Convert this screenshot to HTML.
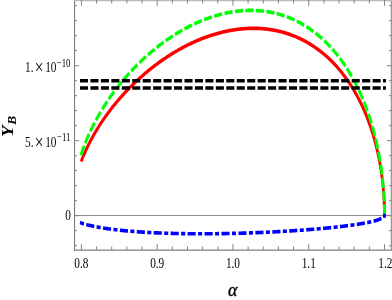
<!DOCTYPE html>
<html><head><meta charset="utf-8"><style>
html,body{margin:0;padding:0;background:#fff;}
svg{display:block;font-family:"Liberation Serif",serif;}
</style></head><body>
<svg width="392" height="300" viewBox="0 0 392 300">
<rect width="392" height="300" fill="#fff"/>
<line x1="74.5" y1="215.5" x2="391.5" y2="215.5" stroke="#8c8c8c" stroke-width="1"/>
<g transform="scale(1,1.27)" fill="none" stroke-width="2.85" stroke-linecap="square" stroke-linejoin="round">
<path d="M81.80 125.93 L83.06 123.44 L84.32 121.09 L85.58 118.85 L86.83 116.72 L88.08 114.67 L89.32 112.71 L90.57 110.81 L91.81 108.99 L93.04 107.22 L94.28 105.51 L95.51 103.85 L96.73 102.23 L97.96 100.66 L99.18 99.13 L100.40 97.64 L101.61 96.19 L102.82 94.77 L104.03 93.39 L105.24 92.04 L106.44 90.71 L107.64 89.42 L108.83 88.15 L110.03 86.91 L111.22 85.69 L112.40 84.49 L113.59 83.32 L114.77 82.17 L115.94 81.05 L117.12 79.94 L118.29 78.86 L119.46 77.79 L120.62 76.74 L121.78 75.71 L122.94 74.70 L124.10 73.70 L125.25 72.72 L126.40 71.76 L127.55 70.82 L128.69 69.88 L129.83 68.97 L130.97 68.07 L132.10 67.18 L133.23 66.31 L134.36 65.45 L135.49 64.60 L136.61 63.77 L137.73 62.95 L138.85 62.15 L139.96 61.35 L141.07 60.57 L142.18 59.80 L143.28 59.04 L144.38 58.29 L145.48 57.56 L146.57 56.83 L147.67 56.12 L148.75 55.42 L149.84 54.72 L150.92 54.04 L152.00 53.37 L153.08 52.71 L154.15 52.06 L155.22 51.42 L156.29 50.78 L157.36 50.16 L158.42 49.55 L159.48 48.94 L160.53 48.35 L161.59 47.76 L162.64 47.19 L163.68 46.62 L164.73 46.06 L165.77 45.51 L166.81 44.97 L167.84 44.43 L168.87 43.91 L169.90 43.39 L170.93 42.88 L171.95 42.38 L172.97 41.88 L173.99 41.40 L175.01 40.92 L176.02 40.45 L177.03 39.99 L178.03 39.53 L179.03 39.08 L180.03 38.64 L181.03 38.21 L182.03 37.78 L183.02 37.36 L184.00 36.95 L184.99 36.54 L185.97 36.15 L186.95 35.75 L187.93 35.37 L188.90 34.99 L189.87 34.62 L190.84 34.25 L191.81 33.90 L192.77 33.54 L193.73 33.20 L194.68 32.86 L195.64 32.53 L196.59 32.20 L197.53 31.88 L198.48 31.56 L199.42 31.26 L200.36 30.95 L201.30 30.66 L202.23 30.37 L203.16 30.08 L204.09 29.80 L205.01 29.53 L205.93 29.26 L206.85 29.00 L207.77 28.75 L208.68 28.50 L209.59 28.25 L210.50 28.01 L211.41 27.78 L212.31 27.55 L213.21 27.33 L214.10 27.11 L215.00 26.90 L215.89 26.69 L216.77 26.49 L217.66 26.29 L218.54 26.10 L219.42 25.92 L220.30 25.74 L221.17 25.56 L222.04 25.39 L222.91 25.22 L223.78 25.06 L224.64 24.91 L225.50 24.76 L226.36 24.61 L227.21 24.47 L228.06 24.33 L228.91 24.20 L229.76 24.07 L230.60 23.95 L231.44 23.83 L232.28 23.72 L233.11 23.61 L233.95 23.50 L234.78 23.40 L235.60 23.31 L236.43 23.22 L237.25 23.13 L238.07 23.05 L238.88 22.97 L239.70 22.90 L240.51 22.83 L241.31 22.77 L242.12 22.71 L242.92 22.65 L243.72 22.60 L244.52 22.55 L245.31 22.51 L246.10 22.47 L246.89 22.43 L247.68 22.40 L248.46 22.38 L249.24 22.35 L250.02 22.33 L250.79 22.32 L251.57 22.31 L252.33 22.30 L253.10 22.30 L253.87 22.30 L254.63 22.30 L255.39 22.31 L256.14 22.32 L256.90 22.34 L257.65 22.36 L258.40 22.38 L259.14 22.41 L259.89 22.44 L260.63 22.48 L261.36 22.51 L262.10 22.56 L262.83 22.60 L263.56 22.65 L264.29 22.70 L265.01 22.76 L265.74 22.82 L266.45 22.88 L267.17 22.95 L267.89 23.02 L268.60 23.09 L269.31 23.17 L270.01 23.25 L270.72 23.34 L271.42 23.42 L272.12 23.51 L272.81 23.61 L273.50 23.71 L274.19 23.81 L274.88 23.91 L275.57 24.02 L276.25 24.13 L276.93 24.24 L277.61 24.36 L278.28 24.48 L278.96 24.60 L279.63 24.73 L280.30 24.86 L280.96 24.99 L281.62 25.12 L282.28 25.26 L282.94 25.40 L283.59 25.55 L284.25 25.70 L284.90 25.85 L285.54 26.00 L286.19 26.16 L286.83 26.32 L287.47 26.48 L288.11 26.64 L288.74 26.81 L289.37 26.98 L290.00 27.16 L290.63 27.33 L291.26 27.51 L291.88 27.70 L292.50 27.88 L293.11 28.07 L293.73 28.26 L294.34 28.45 L294.95 28.65 L295.56 28.85 L296.16 29.05 L296.76 29.25 L297.36 29.46 L297.96 29.67 L298.56 29.88 L299.15 30.10 L299.74 30.31 L300.33 30.53 L300.91 30.76 L301.49 30.98 L302.07 31.21 L302.65 31.44 L303.23 31.67 L303.80 31.90 L304.37 32.14 L304.94 32.38 L305.50 32.62 L306.07 32.87 L306.63 33.12 L307.18 33.36 L307.74 33.62 L308.29 33.87 L308.84 34.13 L309.39 34.39 L309.94 34.65 L310.48 34.91 L311.02 35.18 L311.56 35.44 L312.10 35.71 L312.63 35.99 L313.17 36.26 L313.70 36.54 L314.22 36.82 L314.75 37.10 L315.27 37.38 L315.79 37.67 L316.31 37.95 L316.82 38.24 L317.34 38.54 L317.85 38.83 L318.36 39.13 L318.86 39.42 L319.37 39.72 L319.87 40.03 L320.37 40.33 L320.86 40.64 L321.36 40.94 L321.85 41.25 L322.34 41.57 L322.83 41.88 L323.31 42.20 L323.80 42.51 L324.28 42.83 L324.75 43.16 L325.23 43.48 L325.70 43.80 L326.18 44.13 L326.64 44.46 L327.11 44.79 L327.58 45.12 L328.04 45.46 L328.50 45.79 L328.96 46.13 L329.41 46.47 L329.87 46.81 L330.32 47.16 L330.77 47.50 L331.21 47.85 L331.66 48.20 L332.10 48.55 L332.54 48.90 L332.98 49.25 L333.41 49.61 L333.85 49.96 L334.28 50.32 L334.71 50.68 L335.13 51.04 L335.56 51.41 L335.98 51.77 L336.40 52.14 L336.82 52.51 L337.23 52.87 L337.65 53.25 L338.06 53.62 L338.47 53.99 L338.87 54.37 L339.28 54.74 L339.68 55.12 L340.08 55.50 L340.48 55.88 L340.88 56.26 L341.27 56.65 L341.66 57.03 L342.05 57.42 L342.44 57.81 L342.83 58.19 L343.21 58.59 L343.59 58.98 L343.97 59.37 L344.35 59.76 L344.72 60.16 L345.09 60.56 L345.46 60.95 L345.83 61.35 L346.20 61.75 L346.56 62.16 L346.93 62.56 L347.29 62.96 L347.65 63.37 L348.00 63.77 L348.36 64.18 L348.71 64.59 L349.06 65.00 L349.40 65.41 L349.75 65.82 L350.09 66.24 L350.44 66.65 L350.78 67.07 L351.11 67.48 L351.45 67.90 L351.78 68.32 L352.11 68.74 L352.44 69.16 L352.77 69.58 L353.10 70.00 L353.42 70.43 L353.74 70.85 L354.06 71.27 L354.38 71.70 L354.69 72.13 L355.01 72.56 L355.32 72.98 L355.63 73.41 L355.93 73.85 L356.24 74.28 L356.54 74.71 L356.85 75.14 L357.15 75.58 L357.44 76.01 L357.74 76.45 L358.03 76.88 L358.32 77.32 L358.61 77.76 L358.90 78.20 L359.19 78.63 L359.47 79.07 L359.75 79.52 L360.03 79.96 L360.31 80.40 L360.59 80.84 L360.86 81.28 L361.14 81.73 L361.41 82.17 L361.68 82.62 L361.94 83.06 L362.21 83.51 L362.47 83.96 L362.73 84.41 L362.99 84.85 L363.25 85.30 L363.51 85.75 L363.76 86.20 L364.01 86.65 L364.26 87.10 L364.51 87.55 L364.76 88.01 L365.00 88.46 L365.24 88.91 L365.48 89.36 L365.72 89.82 L365.96 90.27 L366.20 90.73 L366.43 91.18 L366.66 91.64 L366.89 92.09 L367.12 92.55 L367.35 93.00 L367.57 93.46 L367.80 93.92 L368.02 94.37 L368.24 94.83 L368.45 95.29 L368.67 95.75 L368.88 96.21 L369.10 96.67 L369.31 97.12 L369.52 97.58 L369.72 98.04 L369.93 98.50 L370.13 98.96 L370.33 99.42 L370.54 99.88 L370.73 100.34 L370.93 100.80 L371.13 101.26 L371.32 101.72 L371.51 102.18 L371.70 102.65 L371.89 103.11 L372.08 103.57 L372.26 104.03 L372.45 104.49 L372.63 104.95 L372.81 105.41 L372.99 105.87 L373.16 106.33 L373.34 106.80 L373.51 107.26 L373.68 107.72 L373.85 108.18 L374.02 108.64 L374.19 109.10 L374.36 109.56 L374.52 110.02 L374.68 110.48 L374.84 110.94 L375.00 111.40 L375.16 111.86 L375.31 112.32 L375.47 112.78 L375.62 113.24 L375.77 113.70 L375.92 114.16 L376.07 114.62 L376.22 115.08 L376.36 115.54 L376.51 116.00 L376.65 116.46 L376.79 116.92 L376.93 117.37 L377.06 117.83 L377.20 118.29 L377.34 118.74 L377.47 119.20 L377.60 119.66 L377.73 120.11 L377.86 120.57 L377.98 121.02 L378.11 121.48 L378.23 121.93 L378.36 122.38 L378.48 122.84 L378.60 123.29 L378.72 123.74 L378.83 124.20 L378.95 124.65 L379.06 125.10 L379.18 125.55 L379.29 126.00 L379.40 126.45 L379.50 126.90 L379.61 127.34 L379.72 127.79 L379.82 128.24 L379.92 128.69 L380.03 129.13 L380.13 129.58 L380.22 130.02 L380.32 130.47 L380.42 130.91 L380.51 131.35 L380.61 131.79 L380.70 132.23 L380.79 132.67 L380.88 133.11 L380.97 133.55 L381.05 133.99 L381.14 134.43 L381.22 134.87 L381.31 135.30 L381.39 135.74 L381.47 136.17 L381.55 136.60 L381.62 137.04 L381.70 137.47 L381.78 137.90 L381.85 138.33 L381.92 138.76 L382.00 139.18 L382.07 139.61 L382.14 140.04 L382.20 140.46 L382.27 140.89 L382.34 141.31 L382.40 141.73 L382.46 142.15 L382.53 142.57 L382.59 142.99 L382.65 143.41 L382.71 143.82 L382.76 144.24 L382.82 144.65 L382.88 145.07 L382.93 145.48 L382.98 145.89 L383.04 146.30 L383.09 146.70 L383.14 147.11 L383.19 147.52 L383.23 147.92 L383.28 148.32 L383.33 148.72 L383.37 149.12 L383.41 149.52 L383.46 149.92 L383.50 150.32 L383.54 150.71 L383.58 151.10 L383.62 151.49 L383.65 151.88 L383.69 152.27 L383.73 152.66 L383.76 153.04 L383.80 153.42 L383.83 153.80 L383.86 154.18 L383.89 154.56 L383.92 154.94 L383.95 155.31 L383.98 155.68 L384.01 156.05 L384.03 156.42 L384.06 156.79 L384.08 157.15 L384.11 157.52 L384.13 157.88 L384.15 158.23 L384.17 158.59 L384.19 158.94 L384.21 159.30 L384.23 159.65 L384.25 159.99 L384.27 160.34 L384.28 160.68 L384.30 161.02 L384.32 161.36 L384.33 161.69 L384.34 162.02 L384.36 162.35 L384.37 162.68 L384.38 163.00 L384.39 163.32 L384.40 163.63 L384.41 163.95 L384.42 164.26 L384.43 164.56 L384.44 164.87 L384.45 165.17 L384.45 165.46 L384.46 165.75 L384.46 166.04 L384.47 166.32 L384.47 166.60 L384.48 166.87 L384.48 167.14 L384.49 167.40 L384.49 167.66 L384.49 167.91 L384.49 168.15 L384.50 168.39 L384.50 168.62 L384.50 168.83 L384.50 169.04 L384.50 169.24 L384.50 169.41 L384.50 169.57 L384.50 169.69" stroke="#ff0000"/>
<path d="M81.40 120.87 L82.66 118.02 L83.92 115.34 L85.18 112.79 L86.43 110.36 L87.69 108.04 L88.93 105.82 L90.18 103.69 L91.42 101.63 L92.66 99.64 L93.89 97.72 L95.12 95.86 L96.35 94.06 L97.58 92.30 L98.80 90.60 L100.02 88.94 L101.24 87.33 L102.45 85.76 L103.66 84.22 L104.87 82.72 L106.07 81.26 L107.27 79.83 L108.47 78.43 L109.66 77.06 L110.85 75.72 L112.04 74.41 L113.23 73.12 L114.41 71.86 L115.59 70.63 L116.76 69.42 L117.94 68.23 L119.11 67.06 L120.27 65.92 L121.44 64.79 L122.60 63.69 L123.75 62.60 L124.91 61.54 L126.06 60.49 L127.21 59.46 L128.35 58.45 L129.50 57.46 L130.63 56.48 L131.77 55.52 L132.90 54.57 L134.03 53.64 L135.16 52.73 L136.28 51.83 L137.40 50.94 L138.52 50.07 L139.64 49.22 L140.75 48.37 L141.86 47.54 L142.96 46.72 L144.06 45.92 L145.16 45.13 L146.26 44.35 L147.35 43.58 L148.44 42.83 L149.53 42.08 L150.61 41.35 L151.70 40.63 L152.77 39.92 L153.85 39.22 L154.92 38.53 L155.99 37.86 L157.06 37.19 L158.12 36.54 L159.18 35.89 L160.24 35.25 L161.29 34.63 L162.34 34.01 L163.39 33.41 L164.44 32.81 L165.48 32.22 L166.52 31.64 L167.56 31.07 L168.59 30.51 L169.62 29.96 L170.65 29.42 L171.67 28.89 L172.69 28.36 L173.71 27.85 L174.73 27.34 L175.74 26.84 L176.75 26.35 L177.76 25.86 L178.76 25.39 L179.76 24.92 L180.76 24.46 L181.76 24.01 L182.75 23.57 L183.74 23.13 L184.73 22.70 L185.71 22.28 L186.69 21.87 L187.67 21.46 L188.64 21.06 L189.62 20.67 L190.58 20.29 L191.55 19.91 L192.51 19.54 L193.47 19.18 L194.43 18.82 L195.39 18.47 L196.34 18.13 L197.29 17.79 L198.23 17.46 L199.18 17.14 L200.12 16.83 L201.05 16.52 L201.99 16.21 L202.92 15.92 L203.85 15.63 L204.77 15.34 L205.70 15.06 L206.62 14.79 L207.54 14.53 L208.45 14.27 L209.36 14.01 L210.27 13.77 L211.18 13.53 L212.08 13.29 L212.98 13.06 L213.88 12.84 L214.77 12.62 L215.66 12.41 L216.55 12.20 L217.44 12.00 L218.32 11.80 L219.20 11.61 L220.08 11.43 L220.96 11.25 L221.83 11.08 L222.70 10.91 L223.56 10.75 L224.43 10.59 L225.29 10.44 L226.15 10.29 L227.00 10.15 L227.86 10.02 L228.71 9.88 L229.55 9.76 L230.40 9.64 L231.24 9.52 L232.08 9.41 L232.91 9.31 L233.75 9.21 L234.58 9.11 L235.41 9.02 L236.23 8.93 L237.05 8.85 L237.87 8.78 L238.69 8.71 L239.50 8.64 L240.32 8.58 L241.12 8.52 L241.93 8.47 L242.73 8.42 L243.53 8.38 L244.33 8.34 L245.13 8.30 L245.92 8.27 L246.71 8.25 L247.50 8.23 L248.28 8.21 L249.06 8.20 L249.84 8.19 L250.62 8.19 L251.39 8.19 L252.16 8.19 L252.93 8.20 L253.69 8.22 L254.46 8.24 L255.22 8.26 L255.97 8.28 L256.73 8.31 L257.48 8.35 L258.23 8.39 L258.98 8.43 L259.72 8.48 L260.46 8.53 L261.20 8.58 L261.94 8.64 L262.67 8.70 L263.40 8.77 L264.13 8.84 L264.86 8.92 L265.58 8.99 L266.30 9.08 L267.02 9.16 L267.73 9.25 L268.44 9.35 L269.15 9.44 L269.86 9.54 L270.57 9.65 L271.27 9.76 L271.97 9.87 L272.66 9.98 L273.36 10.10 L274.05 10.23 L274.74 10.35 L275.42 10.48 L276.11 10.61 L276.79 10.75 L277.47 10.89 L278.14 11.04 L278.82 11.18 L279.49 11.33 L280.16 11.49 L280.82 11.64 L281.49 11.80 L282.15 11.97 L282.81 12.14 L283.46 12.31 L284.11 12.48 L284.77 12.66 L285.41 12.84 L286.06 13.02 L286.70 13.21 L287.34 13.40 L287.98 13.59 L288.62 13.78 L289.25 13.98 L289.88 14.19 L290.51 14.39 L291.13 14.60 L291.75 14.81 L292.38 15.03 L292.99 15.24 L293.61 15.46 L294.22 15.69 L294.83 15.91 L295.44 16.14 L296.05 16.37 L296.65 16.61 L297.25 16.85 L297.85 17.09 L298.44 17.33 L299.04 17.58 L299.63 17.82 L300.21 18.08 L300.80 18.33 L301.38 18.59 L301.96 18.85 L302.54 19.11 L303.12 19.38 L303.69 19.64 L304.26 19.91 L304.83 20.19 L305.40 20.46 L305.96 20.74 L306.52 21.02 L307.08 21.31 L307.64 21.59 L308.19 21.88 L308.74 22.17 L309.29 22.46 L309.84 22.76 L310.39 23.06 L310.93 23.36 L311.47 23.66 L312.00 23.97 L312.54 24.28 L313.07 24.59 L313.60 24.90 L314.13 25.21 L314.66 25.53 L315.18 25.85 L315.70 26.17 L316.22 26.50 L316.73 26.82 L317.25 27.15 L317.76 27.48 L318.27 27.82 L318.78 28.15 L319.28 28.49 L319.78 28.83 L320.28 29.17 L320.78 29.51 L321.27 29.86 L321.77 30.21 L322.26 30.56 L322.75 30.91 L323.23 31.26 L323.72 31.62 L324.20 31.98 L324.68 32.34 L325.15 32.70 L325.63 33.07 L326.10 33.43 L326.57 33.80 L327.04 34.17 L327.50 34.54 L327.96 34.92 L328.43 35.29 L328.88 35.67 L329.34 36.05 L329.79 36.43 L330.25 36.81 L330.70 37.20 L331.14 37.58 L331.59 37.97 L332.03 38.36 L332.47 38.75 L332.91 39.15 L333.35 39.54 L333.78 39.94 L334.21 40.34 L334.64 40.74 L335.07 41.14 L335.49 41.54 L335.92 41.95 L336.34 42.35 L336.75 42.76 L337.17 43.17 L337.58 43.58 L338.00 43.99 L338.41 44.41 L338.81 44.82 L339.22 45.24 L339.62 45.66 L340.02 46.08 L340.42 46.50 L340.82 46.93 L341.21 47.35 L341.61 47.78 L342.00 48.20 L342.38 48.63 L342.77 49.06 L343.15 49.49 L343.54 49.93 L343.92 50.36 L344.29 50.80 L344.67 51.23 L345.04 51.67 L345.41 52.11 L345.78 52.55 L346.15 52.99 L346.51 53.43 L346.88 53.88 L347.24 54.32 L347.60 54.77 L347.95 55.22 L348.31 55.67 L348.66 56.12 L349.01 56.57 L349.36 57.02 L349.70 57.47 L350.05 57.93 L350.39 58.38 L350.73 58.84 L351.07 59.30 L351.41 59.76 L351.74 60.22 L352.07 60.68 L352.40 61.14 L352.73 61.60 L353.05 62.06 L353.38 62.53 L353.70 62.99 L354.02 63.46 L354.34 63.93 L354.65 64.39 L354.97 64.86 L355.28 65.33 L355.59 65.80 L355.90 66.28 L356.20 66.75 L356.51 67.22 L356.81 67.70 L357.11 68.17 L357.41 68.65 L357.70 69.12 L358.00 69.60 L358.29 70.08 L358.58 70.56 L358.87 71.03 L359.15 71.51 L359.44 72.00 L359.72 72.48 L360.00 72.96 L360.28 73.44 L360.56 73.92 L360.83 74.41 L361.11 74.89 L361.38 75.38 L361.65 75.86 L361.91 76.35 L362.18 76.84 L362.44 77.32 L362.70 77.81 L362.96 78.30 L363.22 78.79 L363.48 79.28 L363.73 79.77 L363.98 80.26 L364.23 80.75 L364.48 81.24 L364.73 81.73 L364.97 82.22 L365.22 82.72 L365.46 83.21 L365.70 83.70 L365.94 84.20 L366.17 84.69 L366.41 85.18 L366.64 85.68 L366.87 86.17 L367.10 86.67 L367.32 87.17 L367.55 87.66 L367.77 88.16 L367.99 88.65 L368.21 89.15 L368.43 89.65 L368.65 90.14 L368.86 90.64 L369.08 91.14 L369.29 91.64 L369.50 92.13 L369.70 92.63 L369.91 93.13 L370.11 93.63 L370.32 94.13 L370.52 94.63 L370.72 95.12 L370.91 95.62 L371.11 96.12 L371.30 96.62 L371.49 97.12 L371.68 97.62 L371.87 98.12 L372.06 98.62 L372.25 99.11 L372.43 99.61 L372.61 100.11 L372.79 100.61 L372.97 101.11 L373.15 101.61 L373.32 102.11 L373.50 102.60 L373.67 103.10 L373.84 103.60 L374.01 104.10 L374.18 104.60 L374.34 105.10 L374.51 105.59 L374.67 106.09 L374.83 106.59 L374.99 107.09 L375.15 107.58 L375.30 108.08 L375.46 108.58 L375.61 109.07 L375.76 109.57 L375.91 110.06 L376.06 110.56 L376.21 111.05 L376.35 111.55 L376.50 112.04 L376.64 112.54 L376.78 113.03 L376.92 113.52 L377.05 114.02 L377.19 114.51 L377.33 115.00 L377.46 115.49 L377.59 115.99 L377.72 116.48 L377.85 116.97 L377.98 117.46 L378.10 117.95 L378.23 118.44 L378.35 118.92 L378.47 119.41 L378.59 119.90 L378.71 120.39 L378.83 120.87 L378.94 121.36 L379.06 121.84 L379.17 122.33 L379.28 122.81 L379.39 123.30 L379.50 123.78 L379.60 124.26 L379.71 124.74 L379.81 125.22 L379.92 125.70 L380.02 126.18 L380.12 126.66 L380.22 127.14 L380.32 127.62 L380.41 128.09 L380.51 128.57 L380.60 129.05 L380.69 129.52 L380.78 129.99 L380.87 130.47 L380.96 130.94 L381.05 131.41 L381.13 131.88 L381.22 132.35 L381.30 132.81 L381.38 133.28 L381.46 133.75 L381.54 134.21 L381.62 134.68 L381.70 135.14 L381.77 135.60 L381.85 136.07 L381.92 136.53 L381.99 136.99 L382.06 137.44 L382.13 137.90 L382.20 138.36 L382.27 138.81 L382.33 139.27 L382.40 139.72 L382.46 140.17 L382.52 140.62 L382.59 141.07 L382.65 141.52 L382.70 141.96 L382.76 142.41 L382.82 142.85 L382.87 143.30 L382.93 143.74 L382.98 144.18 L383.03 144.62 L383.08 145.05 L383.13 145.49 L383.18 145.93 L383.23 146.36 L383.28 146.79 L383.32 147.22 L383.37 147.65 L383.41 148.08 L383.46 148.50 L383.50 148.93 L383.54 149.35 L383.58 149.77 L383.62 150.19 L383.65 150.61 L383.69 151.02 L383.73 151.44 L383.76 151.85 L383.79 152.26 L383.83 152.67 L383.86 153.07 L383.89 153.48 L383.92 153.88 L383.95 154.28 L383.98 154.68 L384.00 155.08 L384.03 155.47 L384.06 155.87 L384.08 156.26 L384.11 156.65 L384.13 157.03 L384.15 157.42 L384.17 157.80 L384.19 158.18 L384.21 158.55 L384.23 158.93 L384.25 159.30 L384.27 159.67 L384.28 160.04 L384.30 160.40 L384.32 160.76 L384.33 161.12 L384.34 161.47 L384.36 161.83 L384.37 162.17 L384.38 162.52 L384.39 162.86 L384.40 163.20 L384.41 163.54 L384.42 163.87 L384.43 164.20 L384.44 164.52 L384.45 164.84 L384.45 165.16 L384.46 165.47 L384.46 165.78 L384.47 166.08 L384.47 166.38 L384.48 166.67 L384.48 166.96 L384.49 167.24 L384.49 167.51 L384.49 167.78 L384.49 168.04 L384.50 168.30 L384.50 168.54 L384.50 168.77 L384.50 168.99 L384.50 169.20 L384.50 169.39 L384.50 169.56 L384.50 169.69" stroke="#00ff00" stroke-dasharray="5.247 5.247"/>
<path d="M81.40 175.65 L82.66 175.98 L83.92 176.29 L85.18 176.57 L86.43 176.85 L87.69 177.11 L88.93 177.35 L90.18 177.59 L91.42 177.81 L92.66 178.02 L93.89 178.23 L95.12 178.43 L96.35 178.61 L97.58 178.80 L98.80 178.97 L100.02 179.14 L101.24 179.30 L102.45 179.46 L103.66 179.61 L104.87 179.76 L106.07 179.90 L107.27 180.04 L108.47 180.17 L109.66 180.30 L110.85 180.42 L112.04 180.55 L113.23 180.66 L114.41 180.78 L115.59 180.89 L116.76 181.00 L117.94 181.10 L119.11 181.20 L120.27 181.30 L121.44 181.40 L122.60 181.49 L123.75 181.58 L124.91 181.67 L126.06 181.75 L127.21 181.83 L128.35 181.91 L129.50 181.99 L130.63 182.07 L131.77 182.14 L132.90 182.21 L134.03 182.28 L135.16 182.35 L136.28 182.42 L137.40 182.48 L138.52 182.54 L139.64 182.61 L140.75 182.66 L141.86 182.72 L142.96 182.78 L144.06 182.83 L145.16 182.88 L146.26 182.93 L147.35 182.98 L148.44 183.03 L149.53 183.08 L150.61 183.12 L151.70 183.17 L152.77 183.21 L153.85 183.25 L154.92 183.29 L155.99 183.33 L157.06 183.37 L158.12 183.40 L159.18 183.44 L160.24 183.47 L161.29 183.50 L162.34 183.53 L163.39 183.56 L164.44 183.59 L165.48 183.62 L166.52 183.65 L167.56 183.68 L168.59 183.70 L169.62 183.73 L170.65 183.75 L171.67 183.77 L172.69 183.79 L173.71 183.81 L174.73 183.83 L175.74 183.85 L176.75 183.87 L177.76 183.89 L178.76 183.90 L179.76 183.92 L180.76 183.93 L181.76 183.95 L182.75 183.96 L183.74 183.97 L184.73 183.98 L185.71 184.00 L186.69 184.01 L187.67 184.01 L188.64 184.02 L189.62 184.03 L190.58 184.04 L191.55 184.05 L192.51 184.05 L193.47 184.06 L194.43 184.06 L195.39 184.07 L196.34 184.07 L197.29 184.07 L198.23 184.07 L199.18 184.08 L200.12 184.08 L201.05 184.08 L201.99 184.08 L202.92 184.08 L203.85 184.08 L204.77 184.08 L205.70 184.07 L206.62 184.07 L207.54 184.07 L208.45 184.06 L209.36 184.06 L210.27 184.05 L211.18 184.05 L212.08 184.04 L212.98 184.04 L213.88 184.03 L214.77 184.02 L215.66 184.02 L216.55 184.01 L217.44 184.00 L218.32 183.99 L219.20 183.98 L220.08 183.97 L220.96 183.96 L221.83 183.95 L222.70 183.94 L223.56 183.93 L224.43 183.92 L225.29 183.91 L226.15 183.89 L227.00 183.88 L227.86 183.87 L228.71 183.86 L229.55 183.84 L230.40 183.83 L231.24 183.81 L232.08 183.80 L232.91 183.78 L233.75 183.77 L234.58 183.75 L235.41 183.74 L236.23 183.72 L237.05 183.70 L237.87 183.69 L238.69 183.67 L239.50 183.65 L240.32 183.63 L241.12 183.61 L241.93 183.59 L242.73 183.58 L243.53 183.56 L244.33 183.54 L245.13 183.52 L245.92 183.50 L246.71 183.48 L247.50 183.46 L248.28 183.44 L249.06 183.41 L249.84 183.39 L250.62 183.37 L251.39 183.35 L252.16 183.33 L252.93 183.31 L253.69 183.28 L254.46 183.26 L255.22 183.24 L255.97 183.21 L256.73 183.19 L257.48 183.17 L258.23 183.14 L258.98 183.12 L259.72 183.09 L260.46 183.07 L261.20 183.05 L261.94 183.02 L262.67 183.00 L263.40 182.97 L264.13 182.94 L264.86 182.92 L265.58 182.89 L266.30 182.87 L267.02 182.84 L267.73 182.81 L268.44 182.79 L269.15 182.76 L269.86 182.73 L270.57 182.71 L271.27 182.68 L271.97 182.65 L272.66 182.62 L273.36 182.60 L274.05 182.57 L274.74 182.54 L275.42 182.51 L276.11 182.48 L276.79 182.45 L277.47 182.43 L278.14 182.40 L278.82 182.37 L279.49 182.34 L280.16 182.31 L280.82 182.28 L281.49 182.25 L282.15 182.22 L282.81 182.19 L283.46 182.16 L284.11 182.13 L284.77 182.10 L285.41 182.07 L286.06 182.04 L286.70 182.01 L287.34 181.98 L287.98 181.95 L288.62 181.92 L289.25 181.88 L289.88 181.85 L290.51 181.82 L291.13 181.79 L291.75 181.76 L292.38 181.73 L292.99 181.70 L293.61 181.66 L294.22 181.63 L294.83 181.60 L295.44 181.57 L296.05 181.53 L296.65 181.50 L297.25 181.47 L297.85 181.44 L298.44 181.40 L299.04 181.37 L299.63 181.34 L300.21 181.31 L300.80 181.27 L301.38 181.24 L301.96 181.21 L302.54 181.17 L303.12 181.14 L303.69 181.11 L304.26 181.07 L304.83 181.04 L305.40 181.01 L305.96 180.97 L306.52 180.94 L307.08 180.90 L307.64 180.87 L308.19 180.84 L308.74 180.80 L309.29 180.77 L309.84 180.73 L310.39 180.70 L310.93 180.66 L311.47 180.63 L312.00 180.59 L312.54 180.56 L313.07 180.53 L313.60 180.49 L314.13 180.46 L314.66 180.42 L315.18 180.39 L315.70 180.35 L316.22 180.32 L316.73 180.28 L317.25 180.25 L317.76 180.21 L318.27 180.18 L318.78 180.14 L319.28 180.11 L319.78 180.07 L320.28 180.03 L320.78 180.00 L321.27 179.96 L321.77 179.93 L322.26 179.89 L322.75 179.86 L323.23 179.82 L323.72 179.79 L324.20 179.75 L324.68 179.71 L325.15 179.68 L325.63 179.64 L326.10 179.61 L326.57 179.57 L327.04 179.53 L327.50 179.50 L327.96 179.46 L328.43 179.43 L328.88 179.39 L329.34 179.35 L329.79 179.32 L330.25 179.28 L330.70 179.25 L331.14 179.21 L331.59 179.17 L332.03 179.14 L332.47 179.10 L332.91 179.06 L333.35 179.03 L333.78 178.99 L334.21 178.95 L334.64 178.92 L335.07 178.88 L335.49 178.85 L335.92 178.81 L336.34 178.77 L336.75 178.74 L337.17 178.70 L337.58 178.66 L338.00 178.63 L338.41 178.59 L338.81 178.55 L339.22 178.52 L339.62 178.48 L340.02 178.44 L340.42 178.41 L340.82 178.37 L341.21 178.33 L341.61 178.30 L342.00 178.26 L342.38 178.22 L342.77 178.19 L343.15 178.15 L343.54 178.11 L343.92 178.08 L344.29 178.04 L344.67 178.00 L345.04 177.97 L345.41 177.93 L345.78 177.89 L346.15 177.86 L346.51 177.82 L346.88 177.78 L347.24 177.74 L347.60 177.71 L347.95 177.67 L348.31 177.63 L348.66 177.60 L349.01 177.56 L349.36 177.52 L349.70 177.49 L350.05 177.45 L350.39 177.41 L350.73 177.38 L351.07 177.34 L351.41 177.30 L351.74 177.27 L352.07 177.23 L352.40 177.19 L352.73 177.16 L353.05 177.12 L353.38 177.08 L353.70 177.05 L354.02 177.01 L354.34 176.97 L354.65 176.94 L354.97 176.90 L355.28 176.86 L355.59 176.83 L355.90 176.79 L356.20 176.75 L356.51 176.72 L356.81 176.68 L357.11 176.64 L357.41 176.61 L357.70 176.57 L358.00 176.53 L358.29 176.50 L358.58 176.46 L358.87 176.42 L359.15 176.39 L359.44 176.35 L359.72 176.31 L360.00 176.28 L360.28 176.24 L360.56 176.20 L360.83 176.17 L361.11 176.13 L361.38 176.10 L361.65 176.06 L361.91 176.02 L362.18 175.99 L362.44 175.95 L362.70 175.91 L362.96 175.88 L363.22 175.84 L363.48 175.81 L363.73 175.77 L363.98 175.73 L364.23 175.70 L364.48 175.66 L364.73 175.63 L364.97 175.59 L365.22 175.55 L365.46 175.52 L365.70 175.48 L365.94 175.45 L366.17 175.41 L366.41 175.37 L366.64 175.34 L366.87 175.30 L367.10 175.27 L367.32 175.23 L367.55 175.20 L367.77 175.16 L367.99 175.12 L368.21 175.09 L368.43 175.05 L368.65 175.02 L368.86 174.98 L369.08 174.95 L369.29 174.91 L369.50 174.88 L369.70 174.84 L369.91 174.80 L370.11 174.77 L370.32 174.73 L370.52 174.70 L370.72 174.66 L370.91 174.63 L371.11 174.59 L371.30 174.56 L371.49 174.52 L371.68 174.49 L371.87 174.45 L372.06 174.42 L372.25 174.38 L372.43 174.35 L372.61 174.31 L372.79 174.28 L372.97 174.24 L373.15 174.21 L373.32 174.17 L373.50 174.14 L373.67 174.11 L373.84 174.07 L374.01 174.04 L374.18 174.00 L374.34 173.97 L374.51 173.93 L374.67 173.90 L374.83 173.86 L374.99 173.83 L375.15 173.80 L375.30 173.76 L375.46 173.73 L375.61 173.69 L375.76 173.66 L375.91 173.63 L376.06 173.59 L376.21 173.56 L376.35 173.53 L376.50 173.49 L376.64 173.46 L376.78 173.42 L376.92 173.39 L377.05 173.36 L377.19 173.32 L377.33 173.29 L377.46 173.26 L377.59 173.22 L377.72 173.19 L377.85 173.16 L377.98 173.12 L378.10 173.09 L378.23 173.06 L378.35 173.03 L378.47 172.99 L378.59 172.96 L378.71 172.93 L378.83 172.89 L378.94 172.86 L379.06 172.83 L379.17 172.80 L379.28 172.76 L379.39 172.73 L379.50 172.70 L379.60 172.67 L379.71 172.63 L379.81 172.60 L379.92 172.57 L380.02 172.54 L380.12 172.51 L380.22 172.47 L380.32 172.44 L380.41 172.41 L380.51 172.38 L380.60 172.35 L380.69 172.32 L380.78 172.28 L380.87 172.25 L380.96 172.22 L381.05 172.19 L381.13 172.16 L381.22 172.13 L381.30 172.10 L381.38 172.07 L381.46 172.04 L381.54 172.00 L381.62 171.97 L381.70 171.94 L381.77 171.91 L381.85 171.88 L381.92 171.85 L381.99 171.82 L382.06 171.79 L382.13 171.76 L382.20 171.73 L382.27 171.70 L382.33 171.67 L382.40 171.64 L382.46 171.61 L382.52 171.58 L382.59 171.55 L382.65 171.52 L382.70 171.49 L382.76 171.46 L382.82 171.44 L382.87 171.41 L382.93 171.38 L382.98 171.35 L383.03 171.32 L383.08 171.29 L383.13 171.26 L383.18 171.23 L383.23 171.21 L383.28 171.18 L383.32 171.15 L383.37 171.12 L383.41 171.09 L383.46 171.07 L383.50 171.04 L383.54 171.01 L383.58 170.98 L383.62 170.96 L383.65 170.93 L383.69 170.90 L383.73 170.87 L383.76 170.85 L383.79 170.82 L383.83 170.79 L383.86 170.77 L383.89 170.74 L383.92 170.71 L383.95 170.69 L383.98 170.66 L384.00 170.64 L384.03 170.61 L384.06 170.58 L384.08 170.56 L384.11 170.53 L384.13 170.51 L384.15 170.48 L384.17 170.46 L384.19 170.43 L384.21 170.41 L384.23 170.38 L384.25 170.36 L384.27 170.34 L384.28 170.31 L384.30 170.29 L384.32 170.27 L384.33 170.24 L384.34 170.22 L384.36 170.20 L384.37 170.17 L384.38 170.15 L384.39 170.13 L384.40 170.11 L384.41 170.08 L384.42 170.06 L384.43 170.04 L384.44 170.02 L384.45 170.00 L384.45 169.98 L384.46 169.96 L384.46 169.94 L384.47 169.92 L384.47 169.90 L384.48 169.88 L384.48 169.86 L384.49 169.84 L384.49 169.83 L384.49 169.81 L384.49 169.79 L384.50 169.78 L384.50 169.76 L384.50 169.74 L384.50 169.73 L384.50 169.72 L384.50 169.70 L384.50 169.69 L384.50 169.69" stroke="#0000ff" stroke-dasharray="1.2 5.25 5.25 5.25"/>
<path d="M81.4 63.543 L384.5 63.543" stroke="#000" stroke-dasharray="5.225 5.225"/>
<path d="M81.4 69.291 L384.5 69.291" stroke="#000" stroke-dasharray="5.225 5.225"/>
</g>
<g stroke="#828282" stroke-width="1" fill="none">
<line x1="74.55" y1="0" x2="74.55" y2="250.6" stroke="#7d7d7d" stroke-width="1.1"/>
<line x1="74" y1="250.05" x2="392" y2="250.05" stroke="#808080" stroke-width="1.3"/>
<line x1="391.4" y1="0" x2="391.4" y2="250.6" stroke="#999" stroke-width="1.4"/>
<line x1="74" y1="0.6" x2="392" y2="0.6" stroke="#b9b9b9" stroke-width="1.5"/>
<line x1="81.40" y1="250.00" x2="81.40" y2="244.20"/>
<line x1="81.40" y1="0.00" x2="81.40" y2="5.80"/>
<line x1="96.56" y1="250.00" x2="96.56" y2="246.50"/>
<line x1="96.56" y1="0.00" x2="96.56" y2="3.50"/>
<line x1="111.71" y1="250.00" x2="111.71" y2="246.50"/>
<line x1="111.71" y1="0.00" x2="111.71" y2="3.50"/>
<line x1="126.87" y1="250.00" x2="126.87" y2="246.50"/>
<line x1="126.87" y1="0.00" x2="126.87" y2="3.50"/>
<line x1="142.02" y1="250.00" x2="142.02" y2="246.50"/>
<line x1="142.02" y1="0.00" x2="142.02" y2="3.50"/>
<line x1="157.18" y1="250.00" x2="157.18" y2="244.20"/>
<line x1="157.18" y1="0.00" x2="157.18" y2="5.80"/>
<line x1="172.33" y1="250.00" x2="172.33" y2="246.50"/>
<line x1="172.33" y1="0.00" x2="172.33" y2="3.50"/>
<line x1="187.49" y1="250.00" x2="187.49" y2="246.50"/>
<line x1="187.49" y1="0.00" x2="187.49" y2="3.50"/>
<line x1="202.64" y1="250.00" x2="202.64" y2="246.50"/>
<line x1="202.64" y1="0.00" x2="202.64" y2="3.50"/>
<line x1="217.80" y1="250.00" x2="217.80" y2="246.50"/>
<line x1="217.80" y1="0.00" x2="217.80" y2="3.50"/>
<line x1="232.95" y1="250.00" x2="232.95" y2="244.20"/>
<line x1="232.95" y1="0.00" x2="232.95" y2="5.80"/>
<line x1="248.11" y1="250.00" x2="248.11" y2="246.50"/>
<line x1="248.11" y1="0.00" x2="248.11" y2="3.50"/>
<line x1="263.26" y1="250.00" x2="263.26" y2="246.50"/>
<line x1="263.26" y1="0.00" x2="263.26" y2="3.50"/>
<line x1="278.42" y1="250.00" x2="278.42" y2="246.50"/>
<line x1="278.42" y1="0.00" x2="278.42" y2="3.50"/>
<line x1="293.57" y1="250.00" x2="293.57" y2="246.50"/>
<line x1="293.57" y1="0.00" x2="293.57" y2="3.50"/>
<line x1="308.73" y1="250.00" x2="308.73" y2="244.20"/>
<line x1="308.73" y1="0.00" x2="308.73" y2="5.80"/>
<line x1="323.88" y1="250.00" x2="323.88" y2="246.50"/>
<line x1="323.88" y1="0.00" x2="323.88" y2="3.50"/>
<line x1="339.03" y1="250.00" x2="339.03" y2="246.50"/>
<line x1="339.03" y1="0.00" x2="339.03" y2="3.50"/>
<line x1="354.19" y1="250.00" x2="354.19" y2="246.50"/>
<line x1="354.19" y1="0.00" x2="354.19" y2="3.50"/>
<line x1="369.35" y1="250.00" x2="369.35" y2="246.50"/>
<line x1="369.35" y1="0.00" x2="369.35" y2="3.50"/>
<line x1="384.50" y1="250.00" x2="384.50" y2="244.20"/>
<line x1="384.50" y1="0.00" x2="384.50" y2="5.80"/>
<line x1="74.50" y1="245.70" x2="77.10" y2="245.70"/>
<line x1="391.50" y1="245.70" x2="388.90" y2="245.70"/>
<line x1="74.50" y1="230.70" x2="77.10" y2="230.70"/>
<line x1="391.50" y1="230.70" x2="388.90" y2="230.70"/>
<line x1="74.50" y1="215.70" x2="79.10" y2="215.70"/>
<line x1="391.50" y1="215.70" x2="386.90" y2="215.70"/>
<line x1="74.50" y1="200.70" x2="77.10" y2="200.70"/>
<line x1="391.50" y1="200.70" x2="388.90" y2="200.70"/>
<line x1="74.50" y1="185.70" x2="77.10" y2="185.70"/>
<line x1="391.50" y1="185.70" x2="388.90" y2="185.70"/>
<line x1="74.50" y1="170.70" x2="77.10" y2="170.70"/>
<line x1="391.50" y1="170.70" x2="388.90" y2="170.70"/>
<line x1="74.50" y1="155.70" x2="77.10" y2="155.70"/>
<line x1="391.50" y1="155.70" x2="388.90" y2="155.70"/>
<line x1="74.50" y1="140.70" x2="79.10" y2="140.70"/>
<line x1="391.50" y1="140.70" x2="386.90" y2="140.70"/>
<line x1="74.50" y1="125.70" x2="77.10" y2="125.70"/>
<line x1="391.50" y1="125.70" x2="388.90" y2="125.70"/>
<line x1="74.50" y1="110.70" x2="77.10" y2="110.70"/>
<line x1="391.50" y1="110.70" x2="388.90" y2="110.70"/>
<line x1="74.50" y1="95.70" x2="77.10" y2="95.70"/>
<line x1="391.50" y1="95.70" x2="388.90" y2="95.70"/>
<line x1="74.50" y1="80.70" x2="77.10" y2="80.70"/>
<line x1="391.50" y1="80.70" x2="388.90" y2="80.70"/>
<line x1="74.50" y1="65.70" x2="79.10" y2="65.70"/>
<line x1="391.50" y1="65.70" x2="386.90" y2="65.70"/>
<line x1="74.50" y1="50.70" x2="77.10" y2="50.70"/>
<line x1="391.50" y1="50.70" x2="388.90" y2="50.70"/>
<line x1="74.50" y1="35.70" x2="77.10" y2="35.70"/>
<line x1="391.50" y1="35.70" x2="388.90" y2="35.70"/>
<line x1="74.50" y1="20.70" x2="77.10" y2="20.70"/>
<line x1="391.50" y1="20.70" x2="388.90" y2="20.70"/>
<line x1="74.50" y1="5.70" x2="77.10" y2="5.70"/>
<line x1="391.50" y1="5.70" x2="388.90" y2="5.70"/>
</g>
<g fill="#000" style="opacity:0.999">
<text transform="translate(81.40,268.10) scale(1,1.380)" font-size="11.30" text-anchor="middle" >0.8</text>
<text transform="translate(157.18,268.10) scale(1,1.380)" font-size="11.30" text-anchor="middle" >0.9</text>
<text transform="translate(232.95,268.10) scale(1,1.380)" font-size="11.30" text-anchor="middle" >1.0</text>
<text transform="translate(308.73,268.10) scale(1,1.380)" font-size="11.30" text-anchor="middle" >1.1</text>
<text transform="translate(385.30,268.10) scale(1,1.380)" font-size="11.30" text-anchor="middle" >1.2</text>
<text transform="translate(25.10,72.10) scale(1,1.380)" font-size="11.30" text-anchor="start" >1.</text>
<text transform="translate(39.20,73.60) scale(1,1.380)" font-size="15.60" text-anchor="middle" >×</text>
<text transform="translate(45.20,72.10) scale(1,1.380)" font-size="11.30" text-anchor="start" >10</text>
<text transform="translate(70.50,66.50) scale(1,1.380)" font-size="8.80" text-anchor="end" >−10</text>
<text transform="translate(25.10,147.00) scale(1,1.380)" font-size="11.30" text-anchor="start" >5.</text>
<text transform="translate(39.20,148.50) scale(1,1.380)" font-size="15.60" text-anchor="middle" >×</text>
<text transform="translate(45.20,147.00) scale(1,1.380)" font-size="11.30" text-anchor="start" >10</text>
<text transform="translate(70.50,141.40) scale(1,1.380)" font-size="8.80" text-anchor="end" >−11</text>
<text transform="translate(70.90,220.20) scale(1,1.380)" font-size="11.30" text-anchor="end" >0</text>
<text transform="translate(237.3,296.0) scale(1,1.06)" font-size="17.8" font-style="italic" text-anchor="end" stroke="#000" stroke-width="0.35">α</text>
<text transform="translate(13.4,136.9) scale(1,1.130) rotate(-90)" font-size="16.70" font-style="italic" font-weight="bold">Y<tspan font-size="11.86" dy="3" dx="0.6">B</tspan></text>
</g>
</svg>
</body></html>
